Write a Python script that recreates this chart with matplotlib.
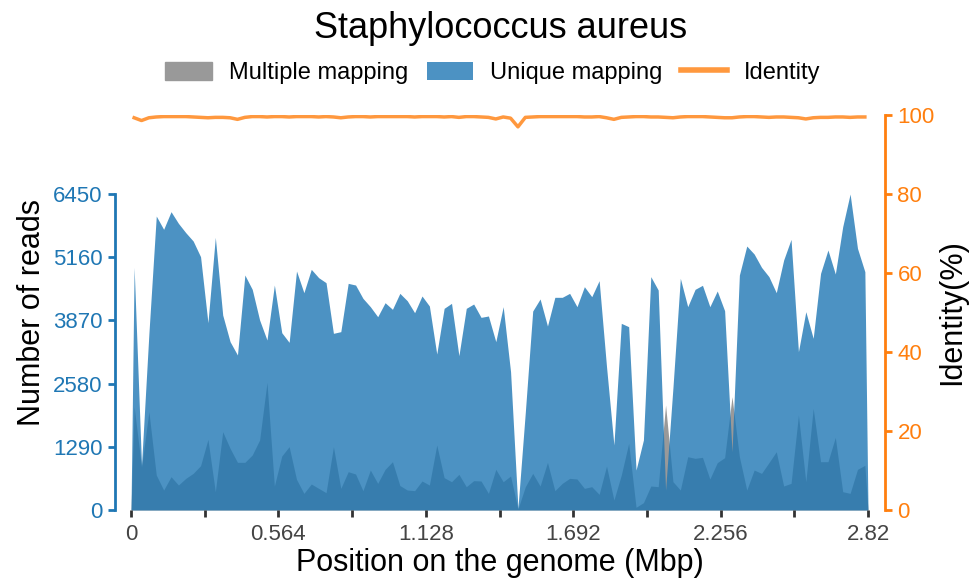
import numpy as np
import matplotlib
matplotlib.use("Agg")
import matplotlib.pyplot as plt
from matplotlib.patches import Patch
from matplotlib.lines import Line2D

plt.rcParams['font.family'] = ['Liberation Sans', 'DejaVu Sans']

# reads per bin (100 bins over the genome)
unique_reads = [4953, 918, 3600, 6000, 5729, 6089, 5851, 5660, 5490, 5170,
                3823, 5565, 3980, 3436, 3164, 4796, 4504, 3878, 3470, 4592,
                3619, 3422, 4878, 4436, 4912, 4742, 4640, 3606, 3640, 4626,
                4592, 4320, 4150, 3945, 4231, 4096, 4422, 4272, 4027, 4368,
                4164, 3184, 4116, 4218, 3150, 4116, 4204, 3932, 3960, 3436,
                4150, 2823, 40, 2000, 4061, 4307, 3755, 4341, 4341, 4422,
                4150, 4558, 4354, 4681, 2926, 1327, 3810, 3742, 816, 1429,
                4763, 4490, 408, 2500, 4729, 4150, 4504, 4586, 4150, 4470,
                4068, 1190, 4796, 5388, 5225, 4953, 4763, 4436, 5103, 5524,
                3232, 4048, 3504, 4830, 5307, 4817, 5783, 6450, 5341, 4864]
multiple_reads = [2109, 880, 2007, 714, 408, 680, 510, 646, 748, 905,
                  1442, 374, 1599, 1259, 973, 973, 1123, 1429, 2606, 490,
                  1102, 1293, 626, 340, 531, 442, 354, 1293, 442, 782,
                  735, 395, 816, 544, 830, 986, 500, 408, 395, 592,
                  510, 1327, 660, 578, 728, 476, 599, 592, 340, 830,
                  578, 694, 20, 476, 748, 490, 973, 395, 544, 646,
                  633, 442, 476, 320, 898, 204, 714, 1361, 55, 150,
                  490, 476, 2143, 578, 408, 1088, 1055, 1075, 633, 966,
                  1068, 2313, 1088, 408, 816, 748, 966, 1190, 490, 544,
                  1939, 578, 2075, 986, 986, 1483, 374, 340, 830, 912]
identity = [99.3, 98.6, 99.3, 99.5, 99.6, 99.6, 99.6, 99.6, 99.5, 99.4,
            99.3, 99.4, 99.4, 99.3, 98.9, 99.4, 99.6, 99.6, 99.5, 99.6,
            99.6, 99.5, 99.6, 99.6, 99.6, 99.5, 99.6, 99.5, 99.3, 99.5,
            99.6, 99.6, 99.5, 99.6, 99.6, 99.6, 99.6, 99.6, 99.5, 99.6,
            99.6, 99.6, 99.5, 99.6, 99.4, 99.6, 99.6, 99.5, 99.4, 99.0,
            99.5, 99.2, 97.0, 99.4, 99.5, 99.6, 99.6, 99.6, 99.6, 99.6,
            99.6, 99.5, 99.5, 99.6, 99.3, 98.9, 99.4, 99.5, 99.6, 99.6,
            99.5, 99.5, 99.4, 99.3, 99.5, 99.6, 99.6, 99.6, 99.5, 99.4,
            99.3, 99.3, 99.5, 99.6, 99.6, 99.5, 99.4, 99.5, 99.5, 99.4,
            99.3, 99.0, 99.3, 99.4, 99.4, 99.5, 99.5, 99.4, 99.5, 99.5]

genome_len = 2.82
read_ticks = [0, 1290, 2580, 3870, 5160, 6450]
ident_ticks = [0, 20, 40, 60, 80, 100]
pos_ticks = [0, 0.564, 1.128, 1.692, 2.256, 2.82]
pos_labels = ["0", "0.564", "1.128", "1.692", "2.256", "2.82"]

blue = "#1f77b4"
orange = "#ff7f0e"

n = len(unique_reads)
pos = np.linspace(0.012, 2.808, n)
# area starts and ends on the axis
x = np.concatenate([[0], pos, [genome_len]])
u = np.concatenate([[0], unique_reads, [0]])
m = np.concatenate([[0], multiple_reads, [0]])

fig = plt.figure(figsize=(9.69, 5.78), dpi=100)
ax = fig.add_axes([131/969, 1 - 510/578, 737/969, 395/578])

ax.fill_between(x, 0, m, color="#999999", lw=0)
ax.fill_between(x, 0, u, color=blue, alpha=0.8, lw=0)
ax.set_xlim(0, genome_len)
ax.set_ylim(0, 6450 * 395 / 316)

ax2 = ax.twinx()
ax2.plot(pos, identity, color=orange, alpha=0.8, lw=2.5)
ax2.set_ylim(0, 100)

# spines
for a in (ax, ax2):
    for s in a.spines.values():
        s.set_visible(False)
ax.spines['left'].set_visible(True)
ax.spines['left'].set_position(('outward', 11.5))
ax.spines['left'].set_bounds(0, 6450)
ax.spines['left'].set_color(blue)
ax.spines['left'].set_linewidth(2)
ax2.spines['right'].set_visible(True)
ax2.spines['right'].set_position(('outward', 12.2))
ax2.spines['right'].set_bounds(0, 100)
ax2.spines['right'].set_color(orange)
ax2.spines['right'].set_linewidth(2)

ax.set_yticks(read_ticks)
ax.tick_params(axis='y', colors=blue, labelsize=16, length=5, width=2, pad=4)
ax2.set_yticks(ident_ticks)
ax2.tick_params(axis='y', colors=orange, labelsize=16, length=5, width=2, pad=4)

ax.set_xticks(pos_ticks)
ax.set_xticklabels(pos_labels)
ax.set_xticks([0.282, 0.846, 1.41, 1.974, 2.538], minor=True)
ax.tick_params(axis='x', which='both', colors="#333333", labelcolor="#444444",
               labelsize=16, length=5, width=2, pad=5)

ax.set_xlabel("Position on the genome (Mbp)", fontsize=22, labelpad=2)
ax.set_ylabel("Number of reads", fontsize=22, labelpad=4)
ax2.set_ylabel("Identity(%)", fontsize=22, labelpad=2)

fig.text(501/969, 1 - 28/578, "Staphylococcus aureus", fontsize=26,
         ha="center", va="center")

handles = [Patch(color="#999999"), Patch(color=blue, alpha=0.8, lw=0),
           Line2D([0], [0], color=orange, alpha=0.8, lw=4)]
fig.legend(handles, ["Multiple mapping", "Unique mapping", "Identity"],
           loc="center", bbox_to_anchor=(493/969, 1 - 73/578), ncol=3,
           frameon=False, fontsize=17, handlelength=1.95, handleheight=0.8,
           columnspacing=0.8, handletextpad=0.72)

fig.savefig("out.png", dpi=100)
